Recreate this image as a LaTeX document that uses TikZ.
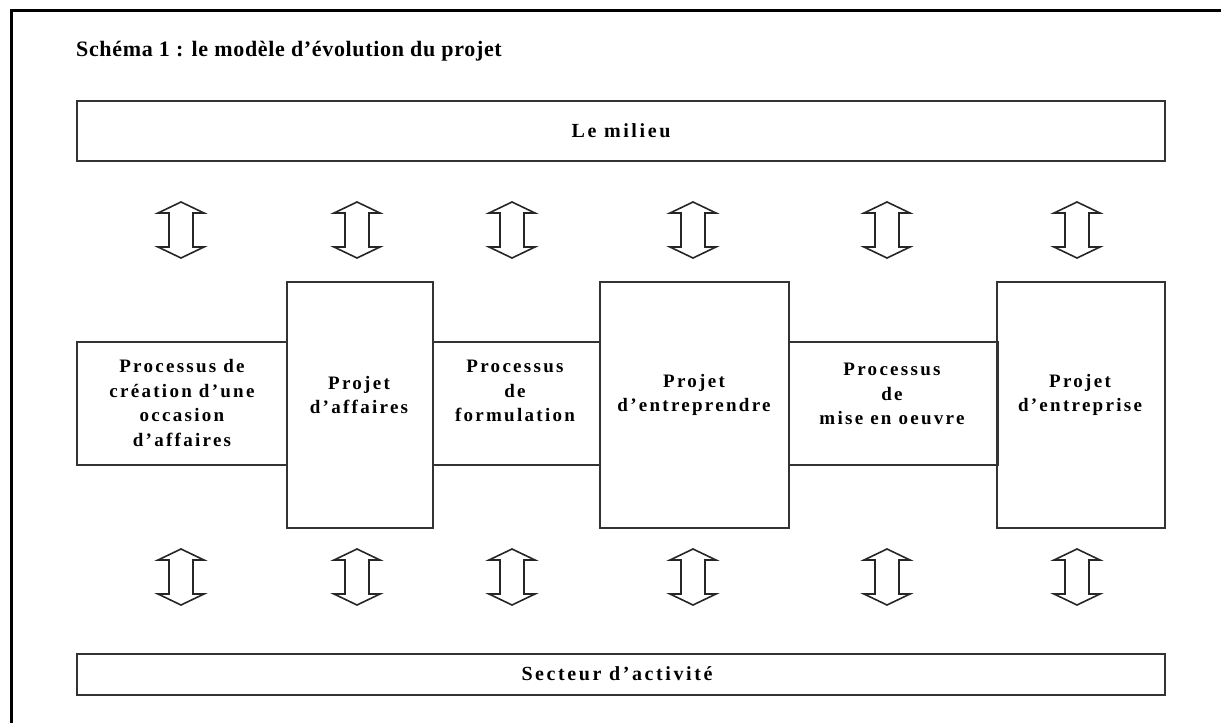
\documentclass[tikz,border=0pt]{standalone}
\usepackage{fontspec}
\setmainfont{Liberation Serif}
\newfontfamily\boxfont[LetterSpace=12]{Liberation Serif}
\newfontfamily\bandfont[LetterSpace=13]{Liberation Serif}
\newfontfamily\titlefont[LetterSpace=3]{Liberation Serif}
\begin{document}
\begin{tikzpicture}[x=1pt,y=-1pt,
  box/.style={draw=black!80, line width=1.8pt, inner sep=0pt, anchor=north west},
  lbl/.style={font=\boxfont\bfseries\fontsize{19}{24.5}\selectfont, align=center, inner sep=0pt},
  band/.style={font=\bandfont\bfseries\fontsize{20}{22}\selectfont, inner sep=0pt},
  arr/.style={draw=black!85, line width=1.6pt, line join=miter},
  pics/darrow/.style={code={\draw[arr] (0,-28) -- (23,-17) -- (12,-17) -- (12,17) -- (23,17) -- (0,28) -- (-23,17) -- (-12,17) -- (-12,-17) -- (-23,-17) -- cycle;}}
]
\useasboundingbox (0,0) rectangle (1221,723);
\fill[white] (0,0) rectangle (1221,723);
% outer frame
\draw[line width=3pt] (11,723) -- (11,10) -- (1221,10);
% title
\node[anchor=base west, inner sep=0pt, font=\titlefont\bfseries\fontsize{22}{24}\selectfont] (title) at (76,56) {Schéma 1 : le modèle d’évolution du projet};
% bands
\node[box, minimum width=1088pt, minimum height=60pt] (milieu) at (76,100) {};
\node[band] (milieuT) at (621,131) {Le milieu};
\node[box, minimum width=1088pt, minimum height=41pt] (secteur) at (76,653) {};
\node[band] (secteurT) at (617,674) {Secteur d’activité};
% boxes
\node[box, minimum width=210pt, minimum height=123pt] (b1) at (76,341) {};
\node[box, minimum width=167pt, minimum height=123pt] (b3) at (432,341) {};
\node[box, minimum width=209pt, minimum height=123pt] (b5) at (788,341) {};
\node[box, minimum width=146pt, minimum height=246pt] (b2) at (286,281) {};
\node[box, minimum width=189pt, minimum height=246pt] (b4) at (599,281) {};
\node[box, minimum width=168pt, minimum height=246pt] (b6) at (996,281) {};
% labels
\node[lbl] (t1) at (182,403) {Processus de\\création d’une\\occasion\\d’affaires};
\node[lbl] (t2) at (359,395) {Projet\\d’affaires};
\node[lbl] (t3) at (515,391) {Processus\\de\\formulation};
\node[lbl] (t4) at (694,395) {Projet\\d’entreprendre};
\node[lbl] (t5) at (892,394) {Processus\\de\\mise en oeuvre};
\node[lbl] (t6) at (1080,395) {Projet\\d’entreprise};
% arrows
\foreach \x in {181,357,512,693,887,1077}{
  \pic at (\x,230) {darrow};
  \pic at (\x,577) {darrow};
}
\end{tikzpicture}
\end{document}
